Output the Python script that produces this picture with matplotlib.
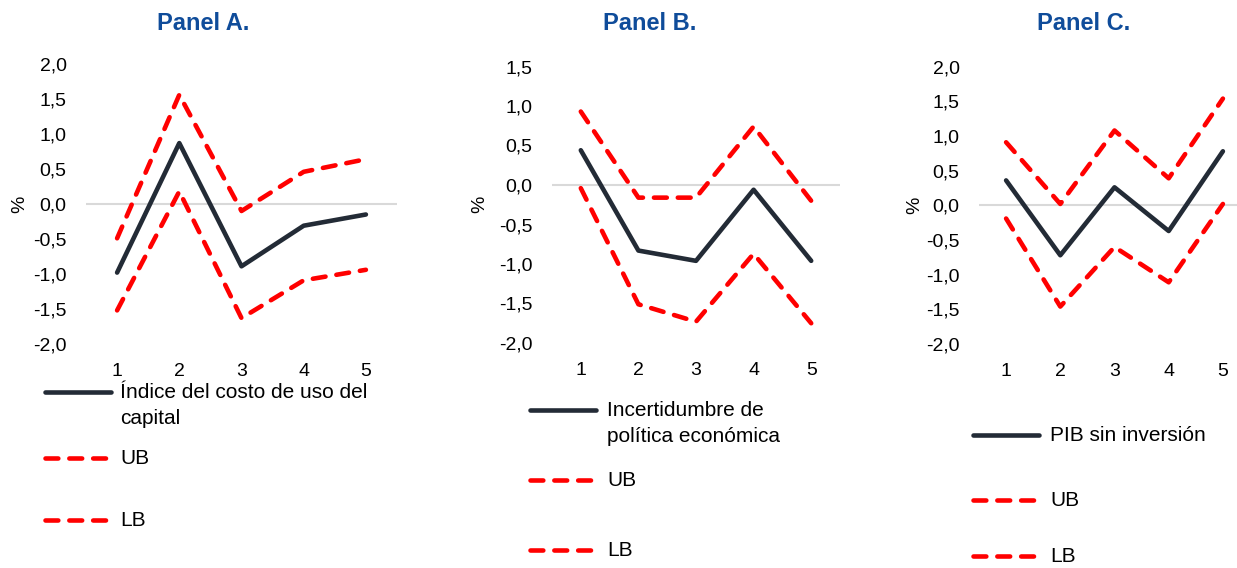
import matplotlib
matplotlib.use("Agg")
import matplotlib.pyplot as plt
from matplotlib.lines import Line2D

plt.rcParams['font.family'] = ['Liberation Sans', 'DejaVu Sans']

W, H = 1237, 568

periods = [1, 2, 3, 4, 5]

# Panel A: índice del costo de uso del capital
a_mid = [-0.98, 0.87, -0.89, -0.31, -0.15]
a_ub = [-0.49, 1.56, -0.10, 0.46, 0.64]
a_lb = [-1.52, 0.18, -1.63, -1.09, -0.94]

# Panel B: incertidumbre de política económica
b_mid = [0.44, -0.83, -0.96, -0.06, -0.96]
b_ub = [0.93, -0.16, -0.16, 0.74, -0.20]
b_lb = [-0.04, -1.51, -1.73, -0.87, -1.75]

# Panel C: PIB sin inversión
c_mid = [0.36, -0.72, 0.26, -0.37, 0.78]
c_ub = [0.91, 0.02, 1.08, 0.39, 1.54]
c_lb = [-0.19, -1.46, -0.60, -1.11, 0.02]

titles = ['Panel A.', 'Panel B.', 'Panel C.']
labels_mid = ['Índice del costo de uso del\ncapital',
              'Incertidumbre de\npolítica económica',
              'PIB sin inversión']
yticks_a = [-2.0, -1.5, -1.0, -0.5, 0.0, 0.5, 1.0, 1.5, 2.0]
yticks_b = [-2.0, -1.5, -1.0, -0.5, 0.0, 0.5, 1.0, 1.5]

DARK = '#232B36'
RED = '#FF0000'
BLUE = '#0F4C9A'
FS = 14
FS_LEG = 15

solid_kw = dict(color=DARK, lw=3.3, solid_capstyle='round', solid_joinstyle='round')
dash_kw = dict(color=RED, lw=3.3, linestyle=(0, (2.8, 2.4)),
               dash_capstyle='round', dash_joinstyle='round')


def fx(x):
    return x / W


def fy(y):
    return 1 - y / H


fig = plt.figure(figsize=(W / 100, H / 100), dpi=100)

panels = [
    # (left, right, top, bottom px), ylim, ticks, data, title x, ylabel offset, legend layout
    ((86, 397, 64, 344), (-2, 2), yticks_a, (a_mid, a_ub, a_lb), 203, -58,
     (45, 120, [392, 458, 520])),
    ((552, 840, 66.5, 343), (-2, 1.5), yticks_b, (b_mid, b_ub, b_lb), 650, -64,
     (530, 607, [410, 480, 550])),
    ((979, 1250, 66.7, 344), (-2, 2), yticks_a, (c_mid, c_ub, c_lb), 1084, -56,
     (973, 1050, [435, 500, 556])),
]

for i, (box, ylim, ticks, (mid, ub, lb), tx, yoff, (lx, txx, ly)) in enumerate(panels):
    l, r, t, b = box
    ax = fig.add_axes([fx(l), fy(b), fx(r - l), (b - t) / H])
    ax.axhline(0, color='#D9D9D9', lw=1.5, zorder=1)
    ax.plot(periods, mid, zorder=3, **solid_kw)
    ax.plot(periods, ub, zorder=2, **dash_kw)
    ax.plot(periods, lb, zorder=2, **dash_kw)
    ax.set_xlim(0.5, 5.5)
    ax.set_ylim(*ylim)
    ax.set_xticks(periods)
    ax.set_yticks(ticks)
    ax.set_yticklabels([f'{v:.1f}'.replace('.', ',') for v in ticks])
    ax.tick_params(length=0, labelsize=FS, colors='black')
    ax.tick_params(axis='y', pad=14)
    ax.tick_params(axis='x', pad=14)
    for s in ax.spines.values():
        s.set_visible(False)
    ax.set_ylabel('%', fontsize=FS)
    ax.yaxis.set_label_coords(yoff / (r - l), 0.5)
    ax.patch.set_alpha(0)

    fig.text(fx(tx), fy(24), titles[i], ha='center', va='center',
             fontsize=17, fontweight='bold', color=BLUE)

    # leyenda
    fig.add_artist(Line2D([fx(lx), fx(lx + 66)], [fy(ly[0])] * 2, **solid_kw))
    fig.text(fx(txx), fy(ly[0] - 9), labels_mid[i], ha='left', va='top',
             fontsize=FS_LEG, linespacing=1.5)
    for yy, name in zip(ly[1:], ['UB', 'LB']):
        fig.add_artist(Line2D([fx(lx), fx(lx + 64)], [fy(yy)] * 2, **dash_kw))
        fig.text(fx(txx), fy(yy), name, ha='left', va='center', fontsize=FS_LEG)

fig.savefig('out.png', dpi=100)
